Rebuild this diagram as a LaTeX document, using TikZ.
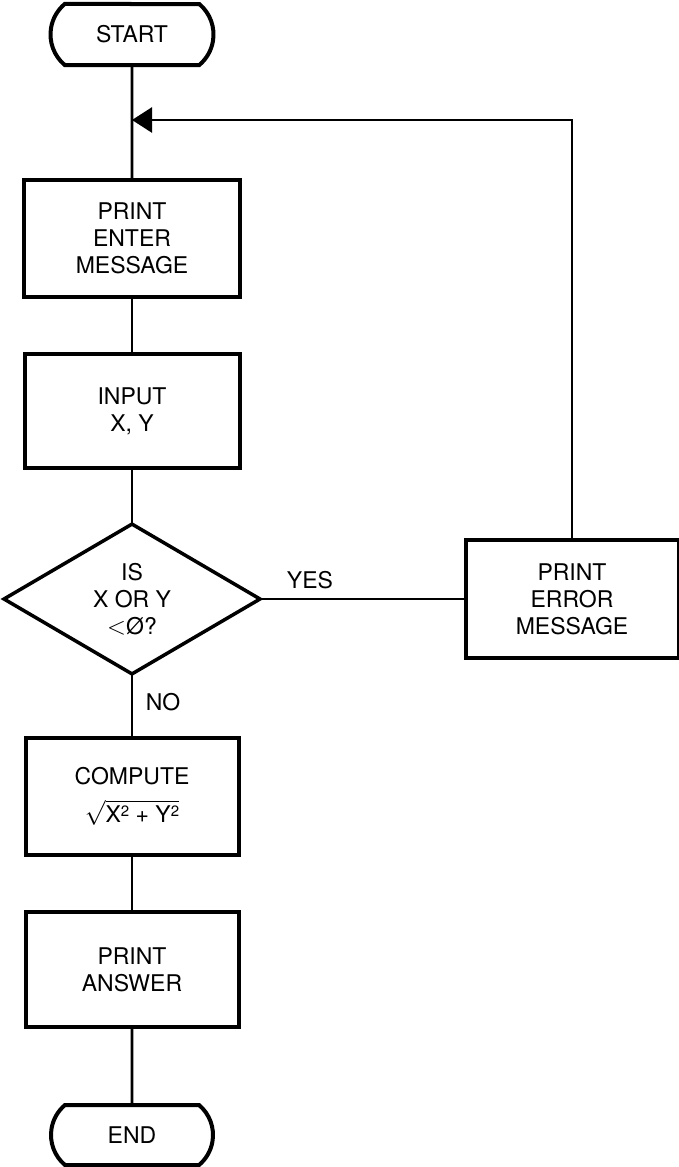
\documentclass[tikz,border=0pt]{standalone}
\usepackage{fontspec}
\setmainfont{TeX Gyre Heros}
\usetikzlibrary{shapes.geometric,shapes.misc,arrows.meta}
\newcommand{\supx}[1]{\raisebox{5.5pt}{\fontsize{15}{15}\selectfont #1}}
\begin{document}
\begin{tikzpicture}[x=1pt,y=-1pt,
  every node/.style={font=\fontsize{23}{27}\selectfont, align=center},
  proc/.style={draw, line width=4pt, rectangle, inner sep=0pt, outer sep=0pt},
  term/.style={draw, line width=4pt, rounded rectangle, rounded rectangle arc length=100, inner sep=0pt, outer sep=0pt},
  dec/.style={draw, line width=3.5pt, diamond, inner sep=0pt, outer sep=0pt},
  conn/.style={line width=2.7pt},
  lbl/.style={inner sep=0pt}]
\useasboundingbox (0,0) rectangle (679,1167);
\node[term, minimum width=163pt, minimum height=61pt] (start) at (132,34.5) {START};
\coordinate (merge) at (132,120);
\node[proc, minimum width=216pt, minimum height=117pt] (enter) at (132,238.5) {PRINT\\ENTER\\MESSAGE};
\node[proc, minimum width=215pt, minimum height=114pt] (input) at (132,411) {INPUT\\X, Y};
\node[dec, minimum width=256pt, minimum height=148pt] (test) at (132,599) {IS\\X OR Y\\$<$Ø?};
\node[proc, minimum width=213pt, minimum height=118pt] (err) at (572,599) {PRINT\\ERROR\\MESSAGE};
\node[proc, minimum width=213pt, minimum height=117pt] (comp) at (132,796.5) {COMPUTE\\[11pt]$\sqrt{\mbox{X\supx{2} + Y\supx{2}}}$};
\node[proc, minimum width=213pt, minimum height=115pt] (ans) at (132,969.5) {PRINT\\ANSWER};
\node[term, minimum width=162pt, minimum height=60pt] (end) at (132,1135) {END};
\node[lbl] (yes) at (310,580) {YES};
\node[lbl] (no) at (163,702) {NO};
\draw[conn] (start) -- (enter);
\draw[conn] (enter) -- (input);
\draw[conn] (input) -- (test);
\draw[conn] (test) -- (comp);
\draw[conn] (comp) -- (ans);
\draw[conn] (ans) -- (end);
\draw[conn] (test.east) -- (err.west);
\draw[conn, -{Triangle[length=20pt,width=25pt]}] (err.north) |- (merge);
\end{tikzpicture}
\end{document}
